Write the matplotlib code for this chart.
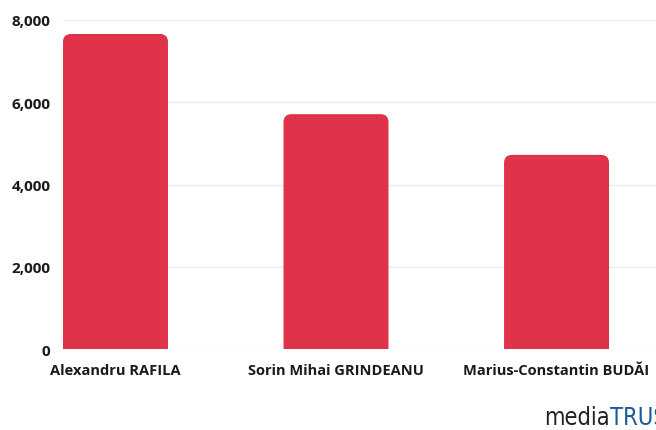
import matplotlib
matplotlib.use("Agg")
import matplotlib.pyplot as plt
from matplotlib.patches import PathPatch
from matplotlib.path import Path
from matplotlib.ticker import FuncFormatter

candidates = ["Alexandru RAFILA", "Sorin Mihai GRINDEANU", "Marius-Constantin BUDĂI"]
votes = [7660, 5710, 4720]
yticks = [0, 2000, 4000, 6000, 8000]

plt.rcParams['font.family'] = ['Open Sans', 'DejaVu Sans']

W, H = 656, 431
fig = plt.figure(figsize=(W/100, H/100), dpi=100)
ax_left, ax_right = 63, 656
ax_bottom, ax_top = 350, 21
ax = fig.add_axes([ax_left/W, 1-ax_bottom/H, (ax_right-ax_left)/W, (ax_bottom-ax_top)/H])

x = list(range(len(candidates)))
width = 0.476
color = '#de3349'
bars = ax.bar(x, votes, width=width, color=color, alpha=0)
ax.set_xlim(-0.238, 2.451)
ax.set_ylim(0, 8000)

# rounded top corners
px_per_x = (ax_right-ax_left)/(2.451+0.238)
px_per_y = (ax_bottom-ax_top)/8000
r_px = 8
rx = r_px/px_per_x
ry = r_px/px_per_y
for b in bars:
    x0, y0, w, h = b.get_x(), b.get_y(), b.get_width(), b.get_height()
    x1, y1 = x0 + w, y0 + h
    verts = [(x0, y0), (x0, y1-ry), (x0, y1), (x0+rx, y1), (x1-rx, y1),
             (x1, y1), (x1, y1-ry), (x1, y0), (x0, y0)]
    codes = [Path.MOVETO, Path.LINETO, Path.CURVE3, Path.CURVE3, Path.LINETO,
             Path.CURVE3, Path.CURVE3, Path.LINETO, Path.CLOSEPOLY]
    ax.add_patch(PathPatch(Path(verts, codes), facecolor=color, edgecolor='none',
                           linewidth=0, zorder=3))

ax.set_yticks(yticks)
ax.yaxis.set_major_formatter(FuncFormatter(lambda v, p: f"{int(v):,}"))
ax.grid(axis='y', color='#ececec', linewidth=1, zorder=0)
ax.set_axisbelow(True)
for s in ax.spines.values():
    s.set_visible(False)
ax.tick_params(axis='y', length=0, pad=9, labelsize=11, labelcolor='#1a1a1a')
ax.tick_params(axis='x', length=0, pad=10, labelsize=10.5, labelcolor='#1a1a1a')
for lab in ax.get_yticklabels():
    lab.set_fontweight('bold')
ax.set_xticks(x)
ax.set_xticklabels(candidates, fontweight='bold')

fig.text(610/W, 1-418/H, "media", ha='right', va='center', fontsize=17,
         color='#222222', family='DejaVu Sans', fontstretch='condensed')
fig.text(610/W, 1-418/H, "TRUST", ha='left', va='center', fontsize=17,
         color='#1c5b9a', family='DejaVu Sans', fontstretch='condensed')

fig.savefig("out.png", dpi=100)
